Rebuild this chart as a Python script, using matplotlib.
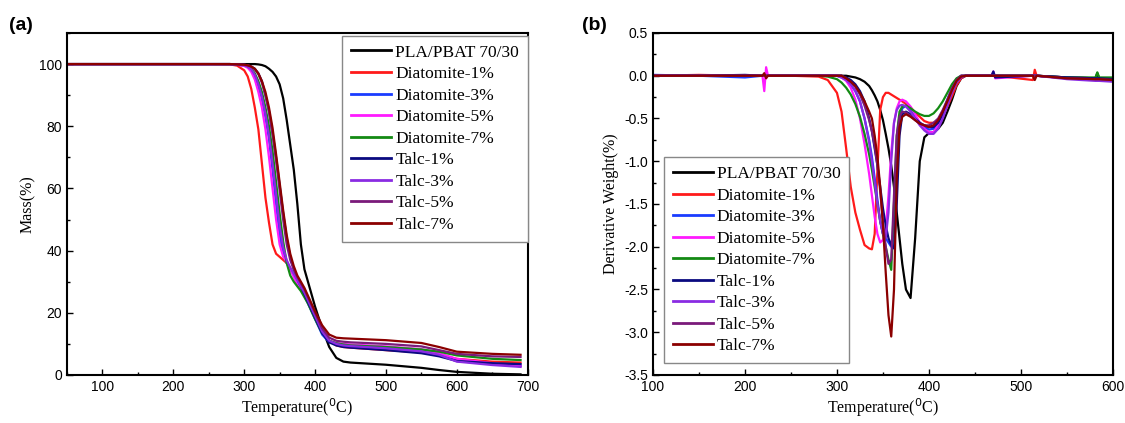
import matplotlib.pyplot as plt
from matplotlib.ticker import MultipleLocator

# ---- TGA (a) ----
t_tga = [50, 250, 280, 290, 300, 305, 310, 315, 320, 325, 330, 335, 340, 345, 350, 355,
         360, 365, 370, 375, 380, 385, 390, 395, 400, 410, 420, 430, 440, 450, 500, 550,
         575, 600, 650, 690]

m_pla = [100, 100, 100, 100, 100, 100, 100, 100, 99.9, 99.7, 99.3, 98.5, 97.5, 96, 93.5, 89,
         82, 74, 66, 55, 42, 34, 30, 26, 22, 15, 9, 5.5, 4.3, 4, 3.3, 2.3, 1.6, 1, 0.4, 0.2]
m_dia1 = [100, 100, 99.9, 99.5, 98, 96, 92, 86, 79, 68, 57, 49, 42, 39, 38, 37,
          36, 34.5, 32, 30, 28, 26, 24, 21, 19, 15, 11, 9.5, 9, 8.8, 8, 7.3, 6.5, 5.2, 4.3, 4.0]
m_dia3 = [100, 100, 100, 99.8, 99.5, 99, 98, 96, 93, 89, 83, 76, 66, 55, 45, 39,
          36, 34, 32, 30, 28, 25.5, 23, 20.5, 18, 13, 10.5, 10, 9.5, 9.3, 8.6, 7.5, 6.5, 4.5, 3.5, 3.0]
m_dia5 = [100, 100, 100, 99.8, 99.4, 98.8, 97.5, 95, 91, 86, 79, 70, 60, 50, 42, 38,
          36.5, 34, 31.5, 29, 27.5, 26, 24, 21, 18.5, 14, 11, 10.3, 10, 9.8, 9.2, 8.3, 7, 5.2, 3.8, 2.8]
m_dia7 = [100, 100, 100, 99.9, 99.7, 99.3, 98.5, 97, 94.5, 91, 86, 80, 72, 62, 52, 43,
          36, 32, 30, 28.5, 27, 25, 23, 20.5, 18, 13.5, 11, 10.2, 9.8, 9.5, 9, 8.2, 7.5, 6.3, 5.2, 4.8]
m_talc1 = [100, 100, 100, 99.9, 99.8, 99.6, 99.2, 98.5, 97, 94.5, 90, 85, 78, 70, 61, 52,
           44, 38, 34, 31, 28.5, 26, 23.5, 21, 18.5, 13.5, 10.5, 9.5, 9, 8.8, 8, 7, 6, 4.5, 3.8, 3.5]
m_talc3 = [100, 100, 100, 99.8, 99.6, 99.2, 98.3, 96.5, 93.5, 89.5, 84, 77, 68, 58, 48, 41,
           37, 34.5, 32.5, 30.5, 28.5, 26.5, 24, 21.5, 19, 14, 11, 10, 9.5, 9.3, 8.6, 7.6, 6.5, 4.3, 3.2, 2.6]
m_talc5 = [100, 100, 100, 99.9, 99.8, 99.6, 99.2, 98.3, 96.8, 94, 90, 84.5, 77.5, 69, 59.5, 50,
           42, 37, 34, 31.5, 29.5, 27.5, 25, 22.5, 20, 15, 12, 11, 10.7, 10.5, 10, 9.2, 8, 6.8, 6, 5.8]
m_talc7 = [100, 100, 100, 99.9, 99.8, 99.6, 99.2, 98.5, 97, 94.5, 91, 86, 79.5, 71, 62, 53,
           45, 39, 35, 32, 30, 28, 25.5, 23, 20.5, 16, 13, 12, 11.8, 11.7, 11.2, 10.3, 9, 7.5, 6.8, 6.5]

# ---- DTG (b) ----
t_dtg = [100, 150, 200, 219, 221, 223, 225, 250,
         280, 290, 300, 305, 310, 315, 320, 325, 330, 335, 338, 341, 344, 347, 350, 353,
         356, 359, 362, 365, 368, 371, 375, 380, 385, 390, 395, 400, 405, 410, 415, 420,
         425, 430, 435, 440,
         468, 470, 472, 513, 515, 517, 550, 581, 583, 585, 600]

d_pla = [0, 0, 0, 0, 0, 0, 0, 0,
         0, 0, 0, 0, 0, -0.01, -0.02, -0.04, -0.07, -0.12, -0.17, -0.23, -0.3, -0.4, -0.52, -0.68,
         -0.85, -1.05, -1.3, -1.6, -1.9, -2.2, -2.5, -2.6, -1.9, -1.0, -0.72, -0.67, -0.66, -0.62, -0.55, -0.42,
         -0.28, -0.12, -0.03, 0,
         0, 0, 0, 0, 0, 0, -0.02, -0.03, 0.03, -0.03, -0.05]
d_dia1 = [0, 0.01, 0, 0, 0, 0, 0, 0,
          -0.01, -0.05, -0.2, -0.42, -0.85, -1.3, -1.6, -1.8, -1.98, -2.02, -2.03, -1.85, -1.1, -0.4, -0.25, -0.2,
          -0.2, -0.22, -0.24, -0.26, -0.28, -0.3, -0.33, -0.37, -0.43, -0.48, -0.53, -0.55, -0.55, -0.52, -0.46, -0.36,
          -0.24, -0.11, -0.03, 0,
          0, 0, 0, -0.05, 0.07, 0, -0.02, -0.03, -0.03, -0.03, -0.03]
d_dia3 = [0.01, 0, -0.02, 0, 0, 0, 0, 0,
          0, 0, 0, -0.02, -0.05, -0.1, -0.18, -0.3, -0.5, -0.75, -0.95, -1.2, -1.45, -1.7, -1.85, -1.9,
          -1.95, -2.0, -1.8, -1.0, -0.5, -0.38, -0.35, -0.4, -0.48, -0.55, -0.6, -0.63, -0.62, -0.55, -0.42, -0.28,
          -0.14, -0.04, 0, 0,
          0, 0.02, 0, 0, 0, 0, -0.02, -0.03, -0.03, -0.03, -0.04]
d_dia5 = [0, 0, 0, 0, -0.18, 0.1, 0, 0,
          0, 0, 0, -0.02, -0.06, -0.14, -0.28, -0.5, -0.8, -1.15, -1.4, -1.65, -1.85, -1.95, -1.92, -1.8,
          -1.4, -0.9, -0.55, -0.38, -0.3, -0.28, -0.3, -0.36, -0.45, -0.55, -0.62, -0.66, -0.66, -0.58, -0.45, -0.3,
          -0.15, -0.05, 0, 0,
          0, 0.05, -0.03, 0, 0, 0, -0.03, -0.04, -0.04, -0.04, -0.05]
d_dia7 = [0, 0, 0, 0, 0, 0, 0, 0,
          0, -0.01, -0.04, -0.08, -0.14, -0.22, -0.33, -0.48, -0.68, -0.92, -1.1, -1.3, -1.5, -1.7, -1.85, -2.0,
          -2.15, -2.27, -1.5, -0.7, -0.42, -0.36, -0.35, -0.38, -0.42, -0.45, -0.47, -0.47, -0.44, -0.38, -0.3, -0.2,
          -0.1, -0.03, 0, 0,
          0, 0, 0, 0, 0, 0, -0.02, -0.02, 0.04, -0.02, -0.02]
d_talc1 = [0, 0, 0.01, 0, 0, 0, 0, 0,
           0, 0, 0, 0, -0.02, -0.05, -0.1, -0.18, -0.3, -0.5, -0.65, -0.85, -1.05, -1.3, -1.55, -1.75,
           -1.9, -1.98, -2.02, -1.5, -0.7, -0.45, -0.42, -0.45, -0.5, -0.55, -0.58, -0.6, -0.6, -0.55, -0.45, -0.32,
           -0.18, -0.06, -0.01, 0,
           0, 0.05, -0.02, 0, 0, 0, -0.02, -0.03, -0.03, -0.03, -0.04]
d_talc3 = [0, 0, 0, 0, 0, 0, 0, 0,
           0, 0, 0, -0.02, -0.05, -0.1, -0.18, -0.3, -0.5, -0.78, -1.0, -1.25, -1.5, -1.7, -1.85, -1.9,
           -1.6, -1.0, -0.55, -0.4, -0.35, -0.34, -0.36, -0.42, -0.5, -0.58, -0.64, -0.68, -0.68, -0.62, -0.5, -0.35,
           -0.2, -0.08, -0.02, 0,
           0, 0, 0, 0, 0, 0, -0.04, -0.06, -0.06, -0.06, -0.07]
d_talc5 = [0, 0, 0, 0, 0, 0, 0, 0,
           0, 0, 0, 0, -0.03, -0.07, -0.13, -0.22, -0.35, -0.52, -0.65, -0.82, -1.05, -1.35, -1.7, -2.0,
           -2.2, -2.15, -1.4, -0.7, -0.48, -0.42, -0.43, -0.47, -0.52, -0.56, -0.58, -0.58, -0.55, -0.5, -0.4, -0.28,
           -0.15, -0.05, 0, 0,
           0, 0, 0, 0, 0, 0, -0.03, -0.04, -0.04, -0.04, -0.05]
d_talc7 = [0, 0, 0, 0, 0.03, -0.03, 0, 0,
           0, 0, 0, 0, -0.03, -0.07, -0.12, -0.2, -0.3, -0.42, -0.5, -0.7, -0.95, -1.3, -1.75, -2.3,
           -2.8, -3.05, -2.5, -1.2, -0.6, -0.48, -0.45, -0.48, -0.52, -0.56, -0.58, -0.6, -0.58, -0.52, -0.42, -0.3,
           -0.17, -0.06, -0.01, 0,
           0, 0, 0, 0, -0.05, 0, -0.03, -0.04, -0.04, -0.04, -0.05]

labels = ['PLA/PBAT 70/30', 'Diatomite-1%', 'Diatomite-3%', 'Diatomite-5%', 'Diatomite-7%',
          'Talc-1%', 'Talc-3%', 'Talc-5%', 'Talc-7%']
colors = ['black', '#ff1a1a', '#1a3cff', '#ff1aff', '#138a13',
          '#0a0a80', '#8a2be2', '#7a1a7a', '#8b0000']
tga = [m_pla, m_dia1, m_dia3, m_dia5, m_dia7, m_talc1, m_talc3, m_talc5, m_talc7]
dtg = [d_pla, d_dia1, d_dia3, d_dia5, d_dia7, d_talc1, d_talc3, d_talc5, d_talc7]

serif = ['Liberation Serif', 'DejaVu Serif']
sans = ['Liberation Sans', 'DejaVu Sans']

fig = plt.figure(figsize=(11.25, 4.23), dpi=100)
ax1 = fig.add_axes([0.0596, 0.1135, 0.4094, 0.8085])
ax2 = fig.add_axes([0.5804, 0.1135, 0.4089, 0.8085])

for y, c, lab in zip(tga, colors, labels):
    ax1.plot(t_tga, y, color=c, lw=1.6, label=lab)
for y, c, lab in zip(dtg, colors, labels):
    ax2.plot(t_dtg, y, color=c, lw=1.6, label=lab)

ax1.set_xlim(50, 700)
ax1.set_ylim(0, 110)
ax1.xaxis.set_major_locator(MultipleLocator(100))
ax1.xaxis.set_minor_locator(MultipleLocator(50))
ax1.yaxis.set_major_locator(MultipleLocator(20))
ax1.yaxis.set_minor_locator(MultipleLocator(10))
ax1.set_xticks(range(100, 701, 100))
ax1.set_xlim(50, 700)

ax2.set_xlim(100, 600)
ax2.set_ylim(-3.5, 0.5)
ax2.xaxis.set_major_locator(MultipleLocator(100))
ax2.xaxis.set_minor_locator(MultipleLocator(50))
ax2.yaxis.set_major_locator(MultipleLocator(0.5))
ax2.yaxis.set_minor_locator(MultipleLocator(0.25))
ax2.yaxis.set_major_formatter(plt.FormatStrFormatter('%.1f'))

for ax in (ax1, ax2):
    ax.tick_params(which='both', direction='in', top=False, right=False, labelsize=10)
    ax.tick_params(which='major', length=4, width=1)
    ax.tick_params(which='minor', length=2.5, width=1)
    for lab in ax.get_xticklabels() + ax.get_yticklabels():
        lab.set_family(sans)
    for s in ax.spines.values():
        s.set_linewidth(1.5)
    ax.set_xlabel('Temperature($^0$C)', family=serif, fontsize=11.5, labelpad=2)

ax1.set_ylabel('Mass(%)', family=serif, fontsize=11.5, labelpad=2)
ax2.set_ylabel('Derivative Weight(%)', family=serif, fontsize=11.5)

leg_kw = dict(prop={'family': serif, 'size': 12.5}, fancybox=False, edgecolor='#888888',
              framealpha=1, handlelength=2.3, labelspacing=0.31, borderpad=0.5,
              handletextpad=0.25, borderaxespad=0)
l1 = ax1.legend(loc='upper right', bbox_to_anchor=(1.0, 0.992), **leg_kw)
l2 = ax2.legend(loc='lower left', bbox_to_anchor=(0.024, 0.035), **leg_kw)
for l in (l1, l2):
    l.get_frame().set_linewidth(1.0)
    for h in l.get_lines():
        h.set_linewidth(2.0)

fig.text(0.008, 0.94, '(a)', fontsize=14, fontweight='bold', family=sans, va='center')
fig.text(0.517, 0.94, '(b)', fontsize=14, fontweight='bold', family=sans, va='center')

fig.savefig('out.png', dpi=100)
